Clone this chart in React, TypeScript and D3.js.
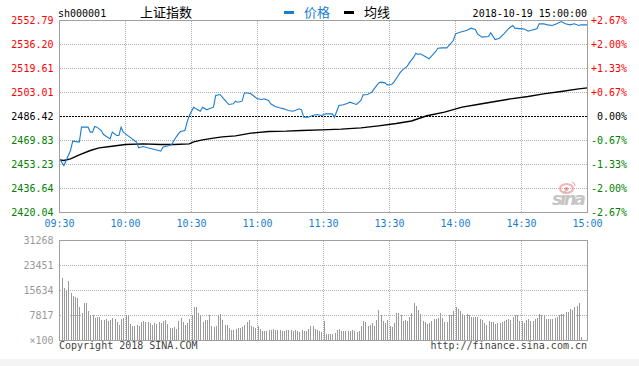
import React from "react";
import * as d3 from "d3";

const W = 639;
const H = 366;

const symbol = "sh000001";
const title = "上证指数";
const legendPrice = "价格";
const legendAvg = "均线";
const dateText = "2018-10-19 15:00:00";
const copyrightText = "Copyright 2018 SINA.COM";
const urlText = "http://finance.sina.com.cn";

const timeTicks = [0, 30, 60, 90, 120, 150, 180, 210, 240];
const timeLabels = ["09:30", "10:00", "10:30", "11:00", "11:30", "13:30", "14:00", "14:30", "15:00"];
const priceTicks = [2552.79, 2536.2, 2519.61, 2503.01, 2486.42, 2469.83, 2453.23, 2436.64, 2420.04];
const pctLabels = ["+2.67%", "+2.00%", "+1.33%", "+0.67%", "0.00%", "-0.67%", "-1.33%", "-2.00%", "-2.67%"];
const prevClose = 2486.42;
const volTicks = [31268, 23451, 15634, 7817, 0];
const volTickLabels = ["31268", "23451", "15634", "7817", "×100"];

const priceMinutes = [
  0, 2, 5, 6, 9, 10, 13, 14, 15, 16, 17, 19, 20, 23, 24, 26, 27, 28, 29, 30, 32, 34, 35, 36, 38, 40, 42, 45, 46, 47,
  48, 50, 51, 52, 54, 55, 57, 58, 59, 61, 62, 64, 65, 67, 68, 70, 71, 73, 74, 76, 77, 79, 80, 81, 83, 84, 85, 87, 88, 90,
  92, 93, 95, 96, 98, 100, 102, 104, 106, 107, 109, 110, 111, 113, 115, 117, 119, 121, 124, 125, 127, 129, 131, 132, 134, 135, 137, 138, 140, 142,
  143, 145, 146, 148, 149, 151, 152, 154, 155, 156, 158, 159, 161, 162, 163, 164, 166, 168, 170, 171, 172, 174, 176, 177, 179, 180, 182, 185, 187, 189,
  190, 192, 195, 196, 197, 198, 200, 202, 204, 206, 207, 210, 211, 213, 214, 217, 218, 220, 222, 224, 226, 228, 230, 232, 234, 236, 237, 240,
];
const prices = [
  2457.15, 2452.54, 2462.91, 2469.36, 2468.67, 2479.04, 2479.04, 2475.58, 2475.58, 2479.5, 2479.04, 2476.73, 2473.97, 2470.97, 2475.58, 2473.28, 2473.28, 2479.04, 2475.58, 2474.43, 2472.13, 2469.82, 2468.67, 2464.75, 2465.67, 2464.75, 2464.06, 2462.91, 2462.44, 2465.21,
  2465.67, 2466.36, 2467.06, 2469.82, 2474.43, 2476.04, 2476.73, 2482.5, 2487.11, 2492.87, 2491.71, 2490.1, 2492.87, 2491.02, 2491.71, 2492.87, 2500.93, 2501.63, 2499.78, 2496.32, 2494.71, 2495.17, 2497.02, 2496.32, 2497.02, 2502.55, 2502.78, 2502.09, 2500.93, 2498.63,
  2498.17, 2498.63, 2497.48, 2495.17, 2493.33, 2492.41, 2491.71, 2490.56, 2490.1, 2490.56, 2491.71, 2491.02, 2485.95, 2485.95, 2487.11, 2487.8, 2487.11, 2488.26, 2488.26, 2485.95, 2494.02, 2494.48, 2495.63, 2496.32, 2495.17, 2494.71, 2497.48, 2501.4, 2501.63, 2503.24,
  2505.55, 2509.46, 2510.15, 2509.69, 2508.31, 2508.54, 2510.15, 2514.76, 2517.07, 2518.68, 2520.99, 2523.5, 2527.44, 2530.2, 2529.28, 2529.74, 2528.13, 2526.29, 2529.74, 2531.36, 2533.66, 2533.89, 2533.89, 2535.5, 2538.96, 2543.57, 2544.72, 2545.88, 2547.49, 2546.57,
  2543.57, 2541.27, 2541.73, 2544.26, 2541.96, 2539.65, 2540.58, 2543.57, 2547.03, 2549.33, 2547.49, 2547.03, 2547.03, 2545.42, 2545.88, 2547.03, 2550.49, 2550.49, 2549.79, 2549.33, 2550.49, 2552.1, 2550.49, 2549.79, 2550.49, 2549.33, 2549.79, 2549.79,
];

const avgMinutes = [0, 2, 5, 9, 14, 18, 23, 30, 38, 46, 52, 59, 61, 65, 70, 74, 80, 87, 95, 103, 110, 119, 128, 137, 145, 153, 160, 167, 175, 183, 190, 198, 205, 213, 220, 228, 236, 240];
const avgPrices = [
  2456.45, 2455.99, 2457.15, 2459.91, 2462.91, 2464.75, 2465.67, 2467.06, 2467.52, 2467.06, 2467.06, 2467.52, 2468.9, 2470.28, 2471.43, 2472.36, 2473.05, 2474.89, 2476.04,
  2476.27, 2476.73, 2477.2, 2477.66, 2478.58, 2479.96, 2481.58, 2483.3, 2486.9, 2489.41, 2492.87, 2494.71, 2496.79, 2498.63, 2500.24, 2502.09, 2503.7, 2505.55, 2506.24,
];

const volumes = [
  19480, 16480, 15850, 18450, 14790, 13850, 13540, 13230, 10630, 8540,
  11660, 11660, 9070, 7820, 7820, 7100, 7500, 7500, 6470, 6470,
  6790, 6250, 6470, 6970, 6790, 5720, 4910, 6790, 7100, 7820,
  8040, 5220, 4380, 4690, 5000, 4380, 5720, 6030, 5720, 5720,
  5410, 5000, 5410, 5220, 5720, 5410, 6250, 6470, 5220, 3970,
  3970, 4160, 3530, 6030, 6970, 5720, 4910, 5530, 6790, 7820,
  10630, 10630, 8540, 7820, 5720, 6470, 6470, 7820, 4690, 4160,
  4470, 7820, 8130, 6470, 5000, 5000, 3970, 3350, 3350, 3440,
  3970, 3970, 4160, 4910, 5940, 6470, 4690, 4160, 3970, 4690,
  3660, 2910, 2910, 2910, 3130, 3350, 3660, 3350, 3350, 3350,
  2910, 2910, 3130, 3130, 3350, 2910, 3130, 2910, 2810, 3130,
  2910, 2910, 3660, 4690, 4380, 3660, 3350, 2910, 2600, 6030,
  1880, 1880, 2090, 2090, 2280, 3130, 3660, 2910, 2910, 2910,
  2910, 2910, 3130, 2910, 2720, 2910, 4690, 6030, 5720, 4470,
  4910, 5530, 4690, 6470, 9690, 7820, 6250, 5410, 6470, 4690,
  4160, 5410, 8540, 8540, 7820, 6250, 6470, 6030, 7290, 8540,
  11660, 10940, 9600, 8350, 6250, 5940, 5220, 5410, 6250, 6790,
  6790, 7100, 8540, 7100, 5720, 5720, 7820, 7820, 9380, 10630,
  9910, 9380, 8130, 7820, 8130, 7820, 7500, 7500, 7500, 7290,
  6790, 6470, 5410, 5000, 6030, 5720, 5720, 5220, 5410, 5410,
  5720, 6030, 6470, 6790, 6470, 7500, 7820, 7820, 6030, 6250,
  5410, 6470, 6790, 6030, 6030, 6790, 7100, 8350, 7820, 7820,
  6790, 6790, 6790, 6790, 7100, 7500, 7820, 8130, 8350, 8850,
  8850, 9910, 9600, 10410, 10940, 11660, 1250,
];

const MONO = "'DejaVu Sans Mono', monospace";
const CJK = "'Noto Sans CJK SC', sans-serif";
const BLUE = "#1b7dd0";
const GRID = "#b0b0b0";
const BORDER = "#a0a0a0";

export default function App() {
  const x = d3.scaleLinear().domain([0, 240]).range([59.5, 587.5]);
  const y = d3.scaleLinear().domain([2420.04, 2552.79]).range([212.5, 20.5]);
  const yv = d3.scaleLinear().domain([0, 31268]).range([340.5, 240.5]);

  const priceLine = d3
    .line<number>()
    .x((_, i) => x(priceMinutes[i]))
    .y((d) => y(d));
  const avgLine = d3
    .line<number>()
    .x((_, i) => x(avgMinutes[i]))
    .y((d) => y(d));

  const labelColor = (p: number) => (p > prevClose + 0.001 ? "#ff0000" : p < prevClose - 0.001 ? "#008000" : "#000000");

  const left = x(0);
  const right = x(240);

  return (
    <div style={{ position: "absolute", left: 0, top: 0, width: W, height: H, background: "#fff" }}>
      <svg width={W} height={H} style={{ display: "block" }}>
        <rect x={0} y={359} width={W} height={H - 359} fill="#f4f4f4" />

        {/* header */}
        <text x={58} y={16.5} fontFamily={MONO} fontSize={10} fill="#000">{symbol}</text>
        <text x={140} y={17} fontFamily={CJK} fontSize={13} fill="#000">{title}</text>
        <rect x={284} y={11} width={10} height={3} fill={BLUE} />
        <text x={304} y={17} fontFamily={CJK} fontSize={13} fill={BLUE}>{legendPrice}</text>
        <rect x={344} y={11} width={10} height={3} fill="#000" />
        <text x={364} y={17} fontFamily={CJK} fontSize={13} fill="#000">{legendAvg}</text>
        <text x={587} y={16.5} fontFamily={MONO} fontSize={10} fill="#000" textAnchor="end">{dateText}</text>

        {/* price grid */}
        {priceTicks.map((p, i) =>
          i === 0 || i === priceTicks.length - 1 ? null : (
            <line
              key={"hg" + i}
              x1={left}
              x2={right}
              y1={y(p)}
              y2={y(p)}
              stroke={p === prevClose ? "#000" : GRID}
              strokeDasharray={p === prevClose ? "2,1" : "1,1"}
              shapeRendering="crispEdges"
            />
          )
        )}
        {timeTicks.slice(1, -1).map((t) => (
          <line key={"vg" + t} x1={x(t)} x2={x(t)} y1={y(2552.79)} y2={y(2420.04)} stroke={GRID} strokeDasharray="1,1" shapeRendering="crispEdges" />
        ))}

        {/* sina logo */}
        <g opacity={0.6}>
          <ellipse cx={566.5} cy={188.5} rx={6.5} ry={4.5} fill="none" stroke="#f08080" strokeWidth={2.2} />
          <circle cx={566.5} cy={189} r={2} fill="#e06060" />
          <path d="M572,182 q3,1 3,4" fill="none" stroke="#f08080" strokeWidth={1.2} />
          <text x={552} y={205} fontFamily="'DejaVu Sans', sans-serif" fontStyle="italic" fontWeight="bold" fontSize={18} fill="#a0a0a0" textLength={34}>sina</text>
        </g>

        {/* lines */}
        <path d={avgLine(avgPrices) || ""} fill="none" stroke="#000" strokeWidth={1.4} />
        <path d={priceLine(prices) || ""} fill="none" stroke={BLUE} strokeWidth={1.1} />

        <rect x={left} y={y(2552.79)} width={right - left} height={y(2420.04) - y(2552.79)} fill="none" stroke={BORDER} shapeRendering="crispEdges" />

        {/* price labels */}
        {priceTicks.map((p, i) => (
          <text key={"pl" + i} x={53.5} y={y(p)} dy="0.35em" textAnchor="end" fontFamily={MONO} fontSize={10} fill={labelColor(p)}>
            {p.toFixed(2)}
          </text>
        ))}
        {priceTicks.map((p, i) => (
          <text key={"pr" + i} x={627} y={y(p)} dy="0.35em" textAnchor="end" fontFamily={MONO} fontSize={10} fill={labelColor(p)}>
            {pctLabels[i]}
          </text>
        ))}

        {/* time labels */}
        {timeTicks.map((t, i) => (
          <text key={"tl" + i} x={x(t)} y={227} textAnchor="middle" fontFamily={MONO} fontSize={10} fill={BLUE}>
            {timeLabels[i]}
          </text>
        ))}

        {/* volume grid */}
        {volTicks.slice(1, -1).map((v) => (
          <line key={"vh" + v} x1={left} x2={right} y1={yv(v)} y2={yv(v)} stroke={GRID} strokeDasharray="1,1" shapeRendering="crispEdges" />
        ))}
        {timeTicks.slice(1, -1).map((t) => (
          <line key={"vv" + t} x1={x(t)} x2={x(t)} y1={yv(31268)} y2={yv(0)} stroke={GRID} strokeDasharray="1,1" shapeRendering="crispEdges" />
        ))}

        {/* volume bars */}
        {volumes.map((v, i) => {
          const bx = Math.round(x(i + 1)) + 0.5;
          return <line key={"b" + i} x1={bx} x2={bx} y1={yv(v)} y2={yv(0)} stroke="#9a9a9a" strokeWidth={1} shapeRendering="crispEdges" />;
        })}

        <rect x={left} y={yv(31268)} width={right - left} height={yv(0) - yv(31268)} fill="none" stroke={BORDER} shapeRendering="crispEdges" />

        {volTicks.map((v, i) => (
          <text key={"vl" + i} x={53.5} y={yv(v)} dy="0.35em" textAnchor="end" fontFamily={MONO} fontSize={10} fill="#999">
            {volTickLabels[i]}
          </text>
        ))}

        {/* footer */}
        <text x={59} y={349} fontFamily={MONO} fontSize={10} fill="#444">{copyrightText}</text>
        <text x={587} y={349} textAnchor="end" fontFamily={MONO} fontSize={10} fill="#444">{urlText}</text>
      </svg>
    </div>
  );
}
